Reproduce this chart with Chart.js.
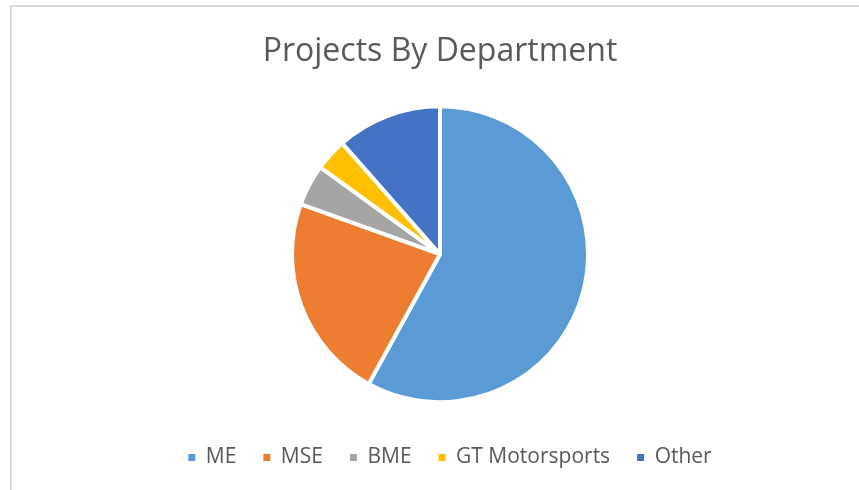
<!DOCTYPE html>
<html>
<head>
<meta charset="utf-8">
<script src="https://cdn.jsdelivr.net/npm/chart.js@4"></script>
<style>
    html, body { margin: 0; padding: 0; background: #fff; overflow: hidden; width: 859px; height: 490px; }
    #frame { position: absolute; left: 10px; top: 5px; width: 860px; height: 500px;
             border-top: 2px solid #d9d9d9; border-left: 2px solid #d9d9d9; }
    #deptChart { position: absolute; left: 12px; top: 0; }
</style>
</head>
<body>
<div id="frame"></div>
<canvas id="deptChart" width="847" height="500"></canvas>
<script>
const departments = ['ME', 'MSE', 'BME', 'GT Motorsports', 'Other'];
const projectShare = [58, 22.5, 4.5, 3.5, 11.5];
const sliceColors = ['#5B9BD5', '#ED7D31', '#A5A5A5', '#FFC000', '#4472C4'];

// the legend in the original sits a little right of the pie
const nudgeLegend = {
    id: 'nudgeLegend',
    afterLayout(chart) {
        chart.legend.left += 10;
        chart.legend.right += 10;
    }
};

document.addEventListener("DOMContentLoaded", () => {
    const ctx = document.getElementById('deptChart').getContext('2d');

    new Chart(ctx, {
        type: 'pie',
        data: {
            labels: departments,
            datasets: [{
                data: projectShare,
                backgroundColor: sliceColors,
                borderColor: '#fff',
                borderWidth: 4,
            }]
        },
        options: {
            responsive: false,
            animation: false,
            radius: 148,
            layout: { padding: { left: 9, bottom: 22 } },
            plugins: {
                title: {
                    display: true,
                    text: 'Projects By Department',
                    color: '#595959',
                    font: { family: 'Open Sans', size: 32, weight: 'normal' },
                    padding: { top: 33, bottom: 17 }
                },
                legend: {
                    position: 'bottom',
                    labels: {
                        color: '#595959',
                        font: { family: 'Open Sans', size: 21 },
                        boxWidth: 7,
                        boxHeight: 7,
                        padding: 27,
                        // plain squares, no white outline eating the marker
                        generateLabels: (chart) => departments.map((name, i) => ({
                            text: name,
                            fillStyle: sliceColors[i],
                            strokeStyle: sliceColors[i],
                            fontColor: '#595959',
                            lineWidth: 0,
                            hidden: false,
                            index: i
                        }))
                    }
                },
                tooltip: { enabled: false }
            }
        },
        plugins: [nudgeLegend]
    });
});
</script>
</body>
</html>
